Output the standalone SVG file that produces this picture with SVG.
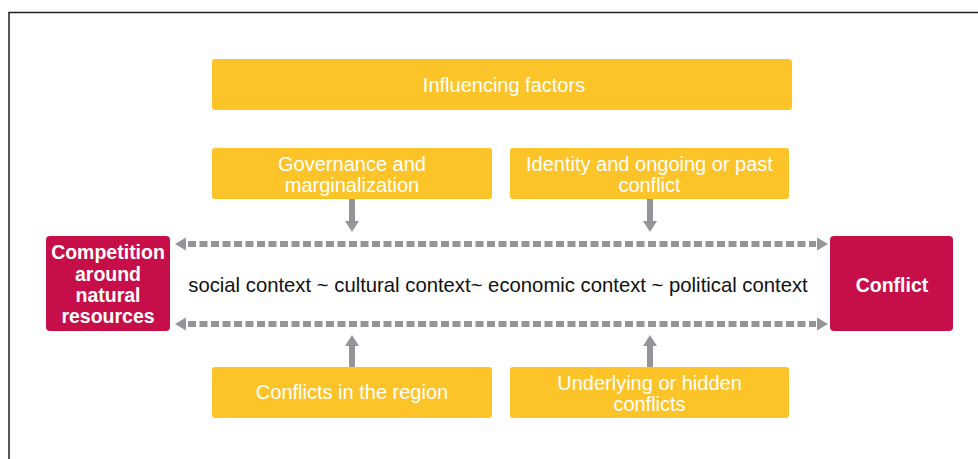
<svg xmlns="http://www.w3.org/2000/svg" width="978" height="459" viewBox="0 0 978 459">
<defs>
<style>
.y{fill:#FDC42A}
.r{fill:#C60F48}
.t{font-family:"Liberation Sans","Noto Sans",sans-serif;fill:#fff;font-size:20px;text-anchor:middle}
.b{font-weight:bold;font-size:19.5px}
.m{font-family:"Liberation Sans","Noto Sans",sans-serif;fill:#111;font-size:20.3px;text-anchor:middle}
.d{stroke:#939598;stroke-width:6;stroke-dasharray:8 3.5;fill:none}
.s{stroke:#939598;stroke-width:6;fill:none}
.h{fill:#939598}
</style>
</defs>
<rect width="978" height="459" fill="#fff"/>
<path d="M9,459 V12.5 H978" fill="none" stroke="#231F20" stroke-width="1.5"/>
<g id="influencing">
<rect class="y" x="212" y="59" width="580" height="51" rx="3"/>
<text class="t" x="504" y="92">Influencing factors</text>
</g>
<g id="governance">
<rect class="y" x="212" y="148" width="280" height="51" rx="3"/>
<text class="t" x="352" y="170.5">Governance and</text>
<text class="t" x="352" y="191.5">marginalization</text>
</g>
<g id="identity">
<rect class="y" x="510" y="148" width="279" height="51" rx="3"/>
<text class="t" x="649.5" y="170.5">Identity and ongoing or past</text>
<text class="t" x="649.5" y="191.5">conflict</text>
</g>
<g id="competition">
<rect class="r" x="46" y="236" width="124" height="95" rx="4"/>
<text class="t b" x="108" y="259">Competition</text>
<text class="t b" x="108" y="281">around</text>
<text class="t b" x="108" y="302">natural</text>
<text class="t b" x="108" y="323">resources</text>
</g>
<g id="conflict">
<rect class="r" x="830" y="236" width="123" height="95" rx="4"/>
<text class="t b" x="892" y="292">Conflict</text>
</g>
<g id="context">
<text class="m" x="498" y="292">social context ~ cultural context~ economic context ~ political context</text>
</g>
<g id="region">
<rect class="y" x="212" y="367" width="280" height="51" rx="3"/>
<text class="t" x="352" y="399">Conflicts in the region</text>
</g>
<g id="underlying">
<rect class="y" x="510" y="367" width="279" height="51" rx="3"/>
<text class="t" x="649.5" y="389.5">Underlying or hidden</text>
<text class="t" x="649.5" y="410.5">conflicts</text>
</g>
<g id="connectors">
<path class="d" d="M188,244 H816"/>
<polygon class="h" points="175,244 186,237.5 186,250.5"/>
<polygon class="h" points="828,244 817,237.5 817,250.5"/>
<path class="d" d="M188,324 H816"/>
<polygon class="h" points="175,324 186,317.5 186,330.5"/>
<polygon class="h" points="828,324 817,317.5 817,330.5"/>
<path class="s" d="M352,199 V222"/>
<polygon class="h" points="352,232 345,221 359,221"/>
<path class="s" d="M650,199 V222"/>
<polygon class="h" points="650,232 643,221 657,221"/>
<path class="s" d="M352,367 V345"/>
<polygon class="h" points="352,335 345,346 359,346"/>
<path class="s" d="M650,367 V345"/>
<polygon class="h" points="650,335 643,346 657,346"/>
</g>
</svg>
